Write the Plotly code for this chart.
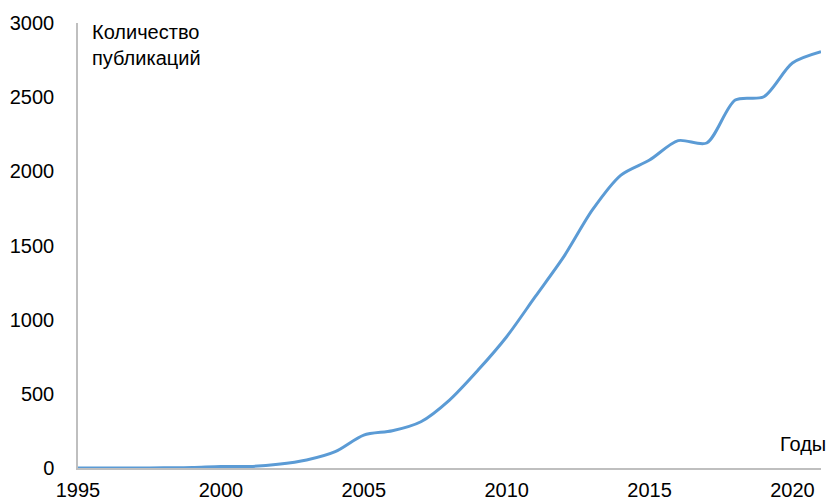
import plotly.graph_objects as go

years = list(range(1995, 2022))
publications = [0, 0, 0, 1, 3, 10, 10, 25, 54, 110, 222, 251, 312, 458, 660, 885,
                1155, 1425, 1740, 1975, 2076, 2207, 2191, 2481, 2503, 2730, 2806]

x_ticks = [1995, 2000, 2005, 2010, 2015, 2020]
y_ticks = [0, 500, 1000, 1500, 2000, 2500, 3000]

FONT = "Liberation Sans, Arial, sans-serif"

fig = go.Figure()
fig.add_trace(go.Scatter(
    x=years, y=publications, mode="lines",
    line=dict(color="#5B9BD5", width=3, shape="spline", smoothing=0.8),
    hoverinfo="skip", showlegend=False,
))

fig.update_layout(
    width=835, height=502,
    margin=dict(l=78, r=14, t=23, b=34),
    paper_bgcolor="white", plot_bgcolor="white",
    font=dict(family=FONT, size=20, color="#000000"),
    xaxis=dict(
        range=[1995, 2021], tickvals=x_ticks, ticktext=[str(v) for v in x_ticks],
        showgrid=False, zeroline=False, showline=True, linecolor="#BFBFBF", linewidth=1.5,
        ticks="", ticklabelstandoff=3, automargin=False,
    ),
    yaxis=dict(
        range=[0, 3000], tickvals=y_ticks, ticktext=[str(v) for v in y_ticks],
        showgrid=False, zeroline=False, showline=True, linecolor="#BFBFBF", linewidth=1.5,
        ticks="", ticklabelstandoff=18, automargin=False,
    ),
    annotations=[
        dict(text="Количество<br>публикаций", xref="paper", yref="paper",
             x=0.016, y=1.01, xanchor="left", yanchor="top", showarrow=False,
             align="left", font=dict(family=FONT, size=20, color="#000000")),
        dict(text="Годы", xref="paper", yref="y", x=1.01, y=160,
             xanchor="right", yanchor="middle", showarrow=False,
             font=dict(family=FONT, size=20, color="#000000")),
    ],
)

fig.write_html("out.html")
